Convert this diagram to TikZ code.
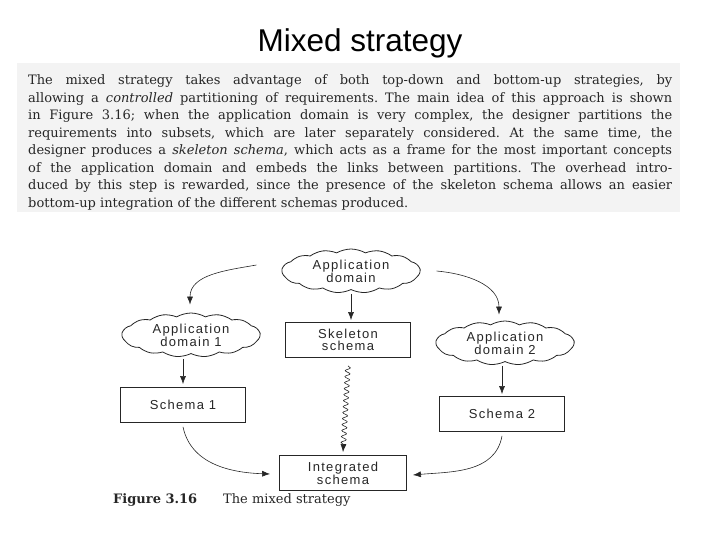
\documentclass[tikz,border=0pt]{standalone}
\usepackage{fontspec}
\usepackage{xcolor}
\usetikzlibrary{arrows.meta,shapes.symbols,decorations.pathmorphing}
\newfontfamily\titlefont{Liberation Sans}
\newfontfamily\diagfont[LetterSpace=10]{Liberation Sans}
\newfontfamily\bookfont{DejaVu Serif}
\definecolor{scangray}{HTML}{F3F3F3}
\definecolor{inkgray}{HTML}{262626}

\begin{document}
\begin{tikzpicture}[x=1pt,y=-1pt]
\tikzset{every node/.style={inner sep=0pt,text=inkgray}}
\tikzset{domaincloud/.style={draw=inkgray,cloud,cloud puffs=15,cloud puff arc=60,cloud ignores aspect,minimum width=138pt,minimum height=44pt,align=center,font=\diagfont\fontsize{13}{11.5}\selectfont,thick}}
\tikzset{schemabox/.style={draw=inkgray,rectangle,minimum width=125pt,minimum height=35pt,align=center,font=\diagfont\fontsize{13}{11.5}\selectfont,thick}}
\tikzset{flow/.style={-{Latex[length=8pt,width=6pt]},semithick,draw=inkgray}}
\tikzset{wavy/.style={flow,decorate,decoration={snake,segment length=6pt,amplitude=2.5pt,post length=7pt}}}

\useasboundingbox (0,0) rectangle (720,540);
\fill[scangray] (17,63) rectangle (680,212);

\node[anchor=base,text=black,font=\titlefont\fontsize{31.5}{36}\selectfont] (title) at (360,52) {Mixed strategy};

\node[anchor=base west,text width=644pt,align=justify,font=\bookfont\fontsize{13}{17.5}\selectfont] (para) at (28,85) {\tolerance=10000\hyphenpenalty=10000\exhyphenpenalty=10000\frenchspacing
The mixed strategy takes advantage of both top-down and bottom-up strategies, by\linebreak
allowing a \textit{controlled} partitioning of requirements. The main idea of this approach is shown\linebreak
in Figure 3.16; when the application domain is very complex, the designer partitions the\linebreak
requirements into subsets, which are later separately considered. At the same time, the\linebreak
designer produces a \textit{skeleton schema}, which acts as a frame for the most important concepts\linebreak
of the application domain and embeds the links between partitions. The overhead intro-\linebreak
duced by this step is rewarded, since the presence of the skeleton schema allows an easier\linebreak
bottom-up integration of the different schemas produced.};

\node[domaincloud] (appdom) at (351,271) {Application\\domain};
\node[domaincloud] (appdomone) at (191,335) {Application\\domain 1};
\node[domaincloud] (appdomtwo) at (505,343) {Application\\domain 2};
\node[schemabox] (skel) at (348,340) {Skeleton\\schema};
\node[schemabox] (schemaone) at (183,405) {Schema 1};
\node[schemabox] (schematwo) at (502,414) {Schema 2};
\node[schemabox,minimum width=127pt] (integ) at (343,473) {Integrated\\schema};

\draw[flow,shorten <=4pt,shorten >=2pt] (appdom.south) -- (appdom.south |- skel.north);
\draw[flow,shorten <=5pt,shorten >=3pt] (schemaone.north |- appdomone.south) -- (schemaone.north);
\draw[flow,shorten <=4pt,shorten >=2pt] (schematwo.north |- appdomtwo.south) -- (schematwo.north);
\draw[flow] ([xshift=-25pt,yshift=6pt]appdom.west) to[out=190,in=90] ([xshift=-1pt,yshift=8pt]appdomone.north);
\draw[flow] ([xshift=16pt]appdom.east) to[out=-5,in=90] ([xshift=-6pt,yshift=6pt]appdomtwo.north);
\draw[flow] ([yshift=-4pt]schemaone.south) to[out=-78,in=178] ([xshift=-9pt,yshift=-1pt]integ.west);
\draw[flow] ([yshift=-4pt]schematwo.south) to[out=-100,in=5] ([xshift=6pt,yshift=-2pt]integ.east);
\draw[wavy] ([yshift=-8pt]skel.south) -- ([yshift=3pt]integ.north);

\node[anchor=base west,font=\bookfont\bfseries\fontsize{13}{15}\selectfont] (capnum) at (113,503) {Figure 3.16};
\node[anchor=base west,font=\bookfont\fontsize{13}{15}\selectfont] (captext) at (223,503) {The mixed strategy};
\end{tikzpicture}
\end{document}
